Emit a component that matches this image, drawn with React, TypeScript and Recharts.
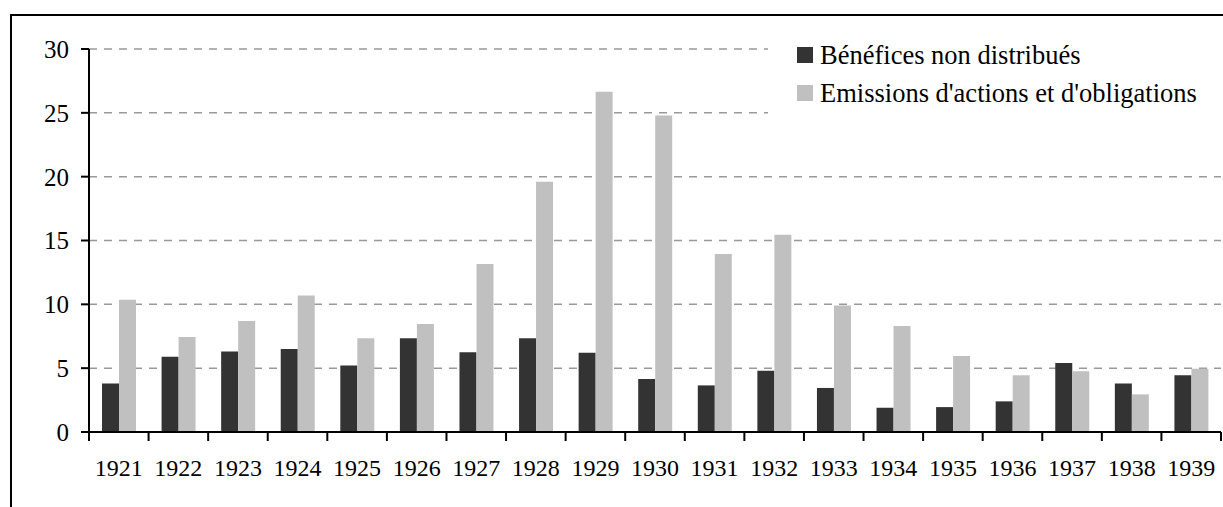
import React from "react";
import { BarChart, Bar, XAxis, YAxis, CartesianGrid, Legend } from "recharts";

const years = ["1921","1922","1923","1924","1925","1926","1927","1928","1929","1930","1931","1932","1933","1934","1935","1936","1937","1938","1939"];
const benefices = [3.8, 5.9, 6.3, 6.5, 5.2, 7.35, 6.25, 7.35, 6.2, 4.15, 3.65, 4.8, 3.45, 1.9, 1.95, 2.4, 5.4, 3.8, 4.45];
const emissions = [10.35, 7.45, 8.7, 10.7, 7.35, 8.45, 13.15, 19.6, 26.65, 24.8, 13.95, 15.45, 9.9, 8.3, 5.95, 4.45, 4.75, 2.95, 4.95];
const yTicks = [0, 5, 10, 15, 20, 25, 30];
const seriesNames = ["Bénéfices non distribués", "Emissions d'actions et d'obligations"];
const colors = ["#333333", "#c0c0c0"];

const data = years.map((y, i) => ({ year: y, benefices: benefices[i], emissions: emissions[i] }));
const boundaryTicks = Array.from({ length: years.length + 1 }, (_, i) => i);

const FONT = "Liberation Serif, Times New Roman, serif";

const renderLegend = () => (
  <div style={{ width: "100%", height: "100%", background: "#fff", fontFamily: FONT, fontSize: 26.5, color: "#000" }}>
    {seriesNames.map((n, i) => (
      <div key={n} style={{ position: "absolute", left: 29, top: 19 + i * 38, height: 16, display: "flex", alignItems: "center", whiteSpace: "nowrap" }}>
        <span style={{ display: "inline-block", width: 16, height: 16, background: colors[i], marginRight: 7 }} />
        <span style={{ lineHeight: "16px" }}>{n}</span>
      </div>
    ))}
  </div>
);

const EmptyTick = () => <g />;

export default function App() {
  return (
    <div style={{ position: "absolute", left: 0, top: 0, width: 1223, height: 507, overflow: "hidden", background: "#fff" }}>
      <div style={{ position: "absolute", left: 10, top: 14, width: 1400, height: 700, border: "2px solid #000", boxSizing: "border-box" }} />
      <div style={{ position: "absolute", left: 0, top: 0 }}>
        <BarChart width={1223} height={507} data={data} margin={{ top: 49, right: 2, left: 0, bottom: 15 }} barGap={0} barSize={17}>
          <CartesianGrid vertical={false} stroke="#999" strokeWidth={1.5} strokeDasharray="8 7" />
          <XAxis xAxisId="bound" type="number" dataKey={(d: any) => years.indexOf(d.year)} domain={[0, years.length]} ticks={boundaryTicks} allowDataOverflow interval={0} tick={EmptyTick} tickSize={9} height={1} axisLine={{ stroke: "#000", strokeWidth: 2 }} tickLine={{ stroke: "#000", strokeWidth: 2 }} />
          <XAxis xAxisId="cat" dataKey="year" height={59} axisLine={false} tickLine={false} tickSize={8} tickMargin={18} interval={0} tick={{ fill: "#000", fontSize: 24, fontFamily: FONT }} />
          <YAxis width={89} domain={[0, 30]} ticks={yTicks} tickSize={8} tickMargin={12} axisLine={{ stroke: "#000", strokeWidth: 2 }} tickLine={{ stroke: "#000", strokeWidth: 2 }} tick={{ fill: "#000", fontSize: 25, fontFamily: FONT }} />
          <Legend layout="vertical" align="center" verticalAlign="middle" content={renderLegend} wrapperStyle={{ position: "absolute", left: 768, top: 28, width: 455, height: 97 }} />
          <Bar xAxisId="cat" dataKey="benefices" name={seriesNames[0]} fill={colors[0]} isAnimationActive={false} />
          <Bar xAxisId="cat" dataKey="emissions" name={seriesNames[1]} fill={colors[1]} isAnimationActive={false} />
        </BarChart>
      </div>
    </div>
  );
}
